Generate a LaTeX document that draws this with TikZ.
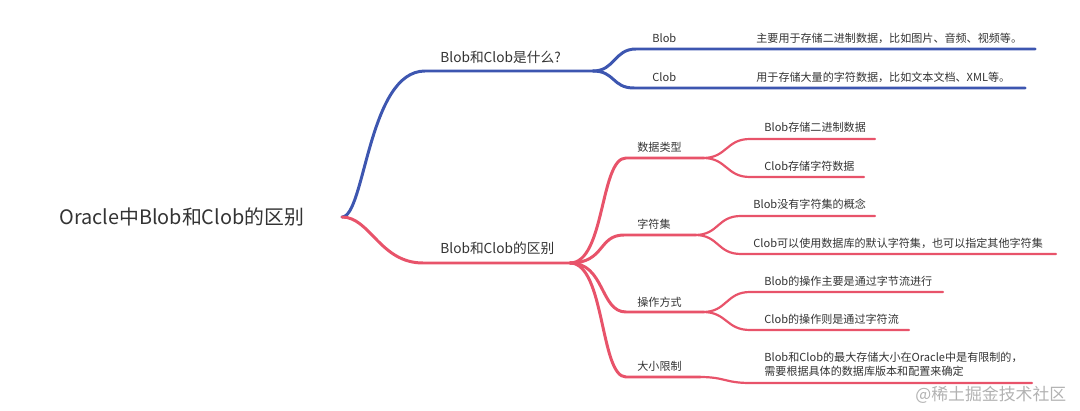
\documentclass[tikz,border=0pt]{standalone}
\usepackage{fontspec}
\setmainfont{Noto Sans CJK SC}
\usepackage{tikz}
\usetikzlibrary{positioning,calc}

\definecolor{mapblue}{RGB}{61,86,176}
\definecolor{mapred}{RGB}{232,83,106}
\definecolor{maptext}{RGB}{51,51,51}

\begin{document}
\begin{tikzpicture}[
    x=0.2mm, y=-0.2mm,
    every node/.style={text=maptext, inner sep=0pt},
    rootnode/.style={anchor=west, font=\fontsize{11.3}{13}\selectfont},
    topic/.style={anchor=west, font=\fontsize{7.8}{9}\selectfont},
    leaf/.style={anchor=west, font=\fontsize{6.3}{8.2}\selectfont, align=left},
    bigline/.style={line width=1.7pt, line cap=round},
    smallline/.style={line width=1.25pt, line cap=round}
  ]
    \useasboundingbox (0,0) rectangle (1080,411);

    % root
    \node[rootnode] (root) at (59,217) {Oracle中Blob和Clob的区别};
    \coordinate (rj) at (342,217);

    % first topic (blue)
    \node[topic] (what) at (440,57) {Blob和Clob是什么?};
    \coordinate (what_s) at (425,71);
    \coordinate (what_j) at (593,71);
    \node[leaf] (blob) at (652,38) {Blob};
    \node[leaf] (blob_d) at (756,38) {主要用于存储二进制数据，比如图片、音频、视频等。};
    \coordinate (blob_s) at (636,49);
    \coordinate (blob_e) at (1035,49);
    \node[leaf] (clob) at (652,77) {Clob};
    \node[leaf] (clob_d) at (756,77) {用于存储大量的字符数据，比如文本文档、XML等。};
    \coordinate (clob_s) at (634,88);
    \coordinate (clob_e) at (1025,88);

    \draw[bigline, mapblue] (rj) .. controls +(23,0) and +(-57,0) .. (what_s) -- (what_j);
    \draw[bigline, mapblue] (what_j) .. controls +(22,0) and +(-22,0) .. (blob_s) -- (blob_e);
    \draw[bigline, mapblue] (what_j) .. controls +(22,0) and +(-22,0) .. (clob_s) -- (clob_e);

    % second topic (red)
    \node[topic] (diff) at (440,248) {Blob和Clob的区别};
    \coordinate (diff_s) at (423,263);
    \coordinate (diff_j) at (570,263);

    \node[leaf] (type) at (637,147) {数据类型};
    \coordinate (type_s) at (626,158);
    \coordinate (type_j) at (703,158);
    \node[leaf] (charset) at (637,224) {字符集};
    \coordinate (charset_s) at (624,235);
    \coordinate (charset_j) at (695,235);
    \node[leaf] (ops) at (637,302) {操作方式};
    \coordinate (ops_s) at (626,312);
    \coordinate (ops_j) at (703,312);
    \node[leaf] (size) at (637,366) {大小限制};
    \coordinate (size_s) at (626,377);
    \coordinate (size_j) at (700,377);

    \node[leaf] (t1) at (764,127) {Blob存储二进制数据};
    \coordinate (t1_s) at (750,139);
    \coordinate (t1_e) at (875,139);
    \node[leaf] (t2) at (764,166) {Clob存储字符数据};
    \coordinate (t2_s) at (750,177);
    \coordinate (t2_e) at (864,177);
    \node[leaf] (c1) at (753,204) {Blob没有字符集的概念};
    \coordinate (c1_s) at (741,216);
    \coordinate (c1_e) at (875,216);
    \node[leaf] (c2) at (753,243) {Clob可以使用数据库的默认字符集，也可以指定其他字符集};
    \coordinate (c2_s) at (741,254);
    \coordinate (c2_e) at (1056,254);
    \node[leaf] (o1) at (764,281) {Blob的操作主要是通过字节流进行};
    \coordinate (o1_s) at (750,292);
    \coordinate (o1_e) at (943,292);
    \node[leaf] (o2) at (764,319) {Clob的操作则是通过字符流};
    \coordinate (o2_s) at (750,330);
    \coordinate (o2_e) at (909,330);
    \node[leaf] (s1) at (764,364.5) {Blob和Clob的最大存储大小在Oracle中是有限制的，\\需要根据具体的数据库版本和配置来确定};
    \coordinate (s1_s) at (750,383);
    \coordinate (s1_e) at (1032,383);

    \draw[bigline, mapred] (rj) .. controls +(28,0) and +(-43,0) .. (diff_s) -- (diff_j);
    \foreach \b in {type, charset, ops, size}
      \draw[bigline, mapred] (diff_j) .. controls +(35,0) and +(-26,0) .. (\b_s) -- (\b_j);

    \draw[smallline, mapred] (type_j) .. controls +(24,0) and +(-24,0) .. (t1_s) -- (t1_e);
    \draw[smallline, mapred] (type_j) .. controls +(24,0) and +(-24,0) .. (t2_s) -- (t2_e);
    \draw[smallline, mapred] (charset_j) .. controls +(24,0) and +(-24,0) .. (c1_s) -- (c1_e);
    \draw[smallline, mapred] (charset_j) .. controls +(24,0) and +(-24,0) .. (c2_s) -- (c2_e);
    \draw[smallline, mapred] (ops_j) .. controls +(24,0) and +(-24,0) .. (o1_s) -- (o1_e);
    \draw[smallline, mapred] (ops_j) .. controls +(24,0) and +(-24,0) .. (o2_s) -- (o2_e);
    \draw[smallline, mapred] (size_j) .. controls +(25,0) and +(-25,0) .. (s1_s) -- (s1_e);

    % watermark
    \node[anchor=west, text=black!30, font=\fontsize{9.6}{11}\selectfont] (mark) at (915,395) {@稀土掘金技术社区};
\end{tikzpicture}
\end{document}
